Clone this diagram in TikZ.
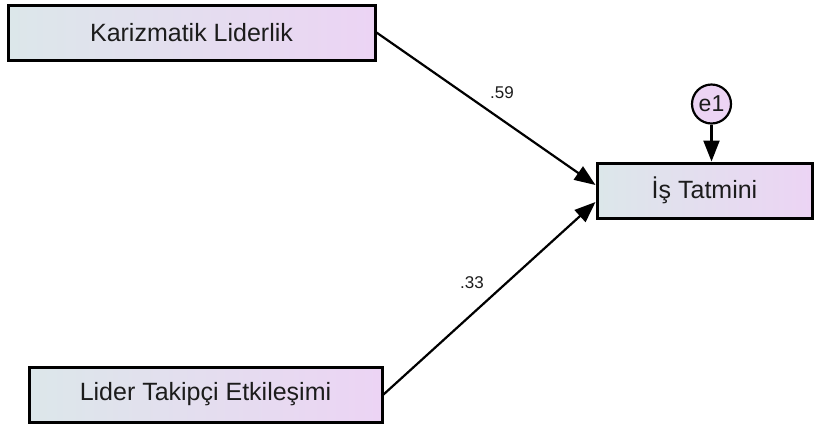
\documentclass[tikz,border=0pt]{standalone}
\usepackage{fontspec}
\setmainfont{Liberation Sans}
\usetikzlibrary{arrows.meta,calc}

\definecolor{boxleft}{HTML}{DCE7EA}
\definecolor{boxright}{HTML}{ECD4F4}
\definecolor{txt}{HTML}{1C1C1C}

\begin{document}
\begin{tikzpicture}[x=0.5pt, y=-0.5pt]
    \tikzstyle{var} = [draw, line width=1.5pt, left color=boxleft, right color=boxright,
                       text=txt, inner sep=0pt, font=\fontsize{12.5}{15}\selectfont]
    \tikzstyle{err} = [draw, circle, line width=1.1pt, fill=boxright, minimum size=19.5pt,
                       inner sep=0pt, text=txt, font=\fontsize{11.5}{13}\selectfont]
    \tikzstyle{path} = [line width=1.1pt, -{Triangle[length=10.5pt, width=8pt]}]
    \tikzstyle{coef} = [text=txt, font=\fontsize{8.5}{10}\selectfont]
    \useasboundingbox (0, 0) rectangle (818, 425);
    \node (kar) at (191.5, 32.5) [var, minimum width=183.5pt, minimum height=27.5pt] {Karizmatik Liderlik};
    \node (lte) at (205.5, 394.5) [var, minimum width=176.5pt, minimum height=27.5pt] {Lider Takipçi Etkileşimi};
    \node (tat) at (704.5, 190.5) [var, minimum width=107.5pt, minimum height=27.5pt] {İş Tatmini};
    \node (e1) at (711.5, 104) [err] {e1};
    \draw[path] (kar.east) -- ($(tat.west) + (0, -5.5)$);
    \draw[path] (lte.east) -- ($(tat.west) + (0, 11.5)$);
    \draw[path] (e1.south) -- (e1.south |- tat.north);
    \node (c59) at (502, 93) [coef] {.59};
    \node (c33) at (472, 283) [coef] {.33};
\end{tikzpicture}
\end{document}
